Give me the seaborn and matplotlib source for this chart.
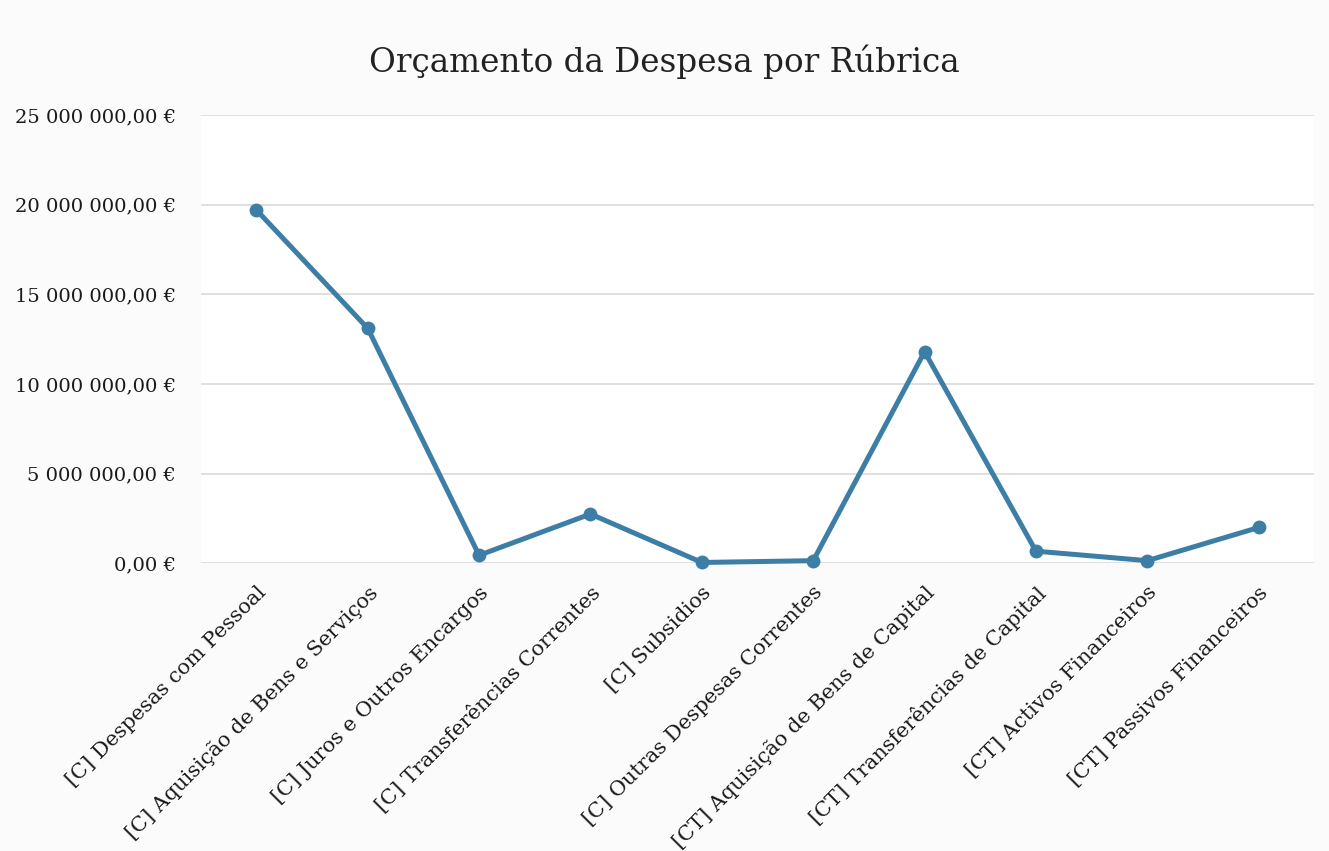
import matplotlib
matplotlib.use("Agg")
import matplotlib.pyplot as plt
import seaborn as sns
import pandas as pd
from matplotlib.ticker import FuncFormatter

categories = [
    "[C] Despesas com Pessoal",
    "[C] Aquisição de Bens e Serviços",
    "[C] Juros e Outros Encargos",
    "[C] Transferências Correntes",
    "[C] Subsidios",
    "[C] Outras Despesas Correntes",
    "[CT] Aquisição de Bens de Capital",
    "[CT] Transferências de Capital",
    "[CT] Activos Financeiros",
    "[CT] Passivos Financeiros",
]
values = [19700000, 13100000, 450000, 2750000, 50000, 150000, 11800000, 680000, 150000, 2000000]
y_ticks = [0, 5000000, 10000000, 15000000, 20000000, 25000000]

sns.set_theme(style="white")
plt.rcParams["font.family"] = ["DejaVu Serif", "Liberation Serif"]

df = pd.DataFrame({"cat": categories, "val": values, "x": range(len(categories))})

fig = plt.figure(figsize=(13.29, 8.51), dpi=100)
fig.patch.set_facecolor("#FBFBFB")
ax = fig.add_axes([0.151, 0.338, 0.838, 0.527])
ax.set_facecolor("#FFFFFF")

sns.lineplot(data=df, x="x", y="val", ax=ax, color="#3D7EA6", linewidth=3.6,
             marker="o", markersize=10, markeredgewidth=0, clip_on=False, zorder=3)

ax.set_xlim(-0.5, len(categories) - 0.5)
ax.set_ylim(0, 25000000)
ax.set_yticks(y_ticks)

def fmt(v, pos):
    ip = int(round(v))
    s = f"{ip:,}".replace(",", " ")
    return f"{s},00 €"

ax.yaxis.set_major_formatter(FuncFormatter(fmt))
ax.set_xticks(range(len(categories)))
ax.set_xticklabels(categories, rotation=45, ha="right", rotation_mode="anchor", fontsize=15, color="#1a1a1a")
ax.tick_params(axis="y", labelsize=14, length=0, pad=18, labelcolor="#1a1a1a")
ax.tick_params(axis="x", length=0, pad=14)
ax.grid(axis="y", color="#DADADA", linewidth=1.2)
for s in ax.spines.values():
    s.set_visible(False)
ax.set_xlabel("")
ax.set_ylabel("")
fig.text(0.5, 0.927, "Orçamento da Despesa por Rúbrica", ha="center", va="center", fontsize=23.5, color="#222222")
fig.savefig("out.png", dpi=100, facecolor=fig.get_facecolor())
